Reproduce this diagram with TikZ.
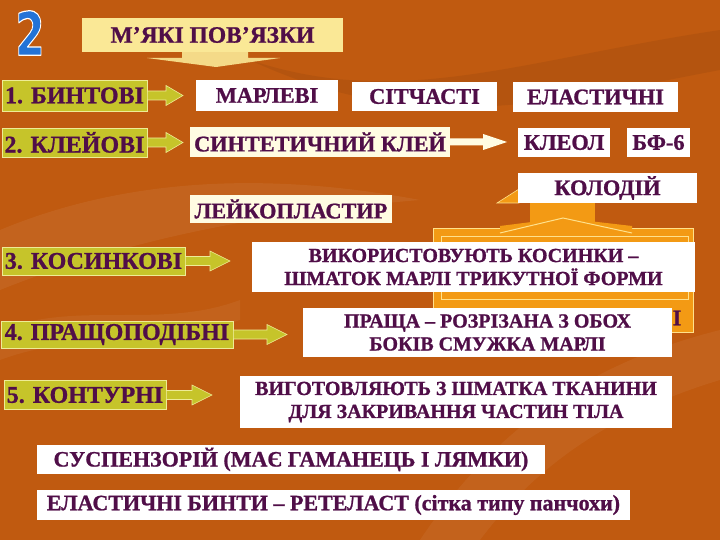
\documentclass[tikz,border=0pt]{standalone}
\usepackage{fontspec}
\setmainfont{Liberation Serif}[BoldFeatures={FakeBold=1.0}]
\newfontfamily\digitfont{DejaVu Sans}
\usetikzlibrary{calc}
\definecolor{bgtop}{RGB}{120,48,6}
\definecolor{bgmid}{RGB}{192,90,16}
\definecolor{bgmid2}{RGB}{165,70,10}
\definecolor{bgbot}{RGB}{80,28,3}
\definecolor{txt}{RGB}{80,14,72}
\definecolor{ygreen}{RGB}{198,196,42}
\definecolor{ygline}{RGB}{238,236,150}
\definecolor{cream}{RGB}{255,252,226}
\definecolor{titlebg}{RGB}{250,232,150}
\definecolor{orangebox}{RGB}{243,154,20}
\definecolor{orline}{RGB}{255,225,140}
\definecolor{digitblue}{RGB}{35,115,215}
\pgfdeclareverticalshading{bgshade}{720bp}{color(0bp)=(bgbot); color(22bp)=(bgmid2); color(60bp)=(bgmid); color(470bp)=(bgmid); color(520bp)=(bgmid2); color(540bp)=(bgtop)}
\newcommand\blkarrow[6]{% start, tip, fill, shaft half, head half, head length
  \path let \p1=#1, \p2=#2 in
    [fill=#3, draw=ygline, line width=0.6pt]
    (\x1,\y1+#4) -- (\x2-#6,\y1+#4) -- (\x2-#6,\y1+#5) -- (\x2,\y1)
    -- (\x2-#6,\y1-#5) -- (\x2-#6,\y1-#4) -- (\x1,\y1-#4) -- cycle;}
\begin{document}
\begin{tikzpicture}[x=1pt,y=-1pt,
  every node/.style={inner sep=0pt, text=txt, font=\bfseries\fontsize{22.3}{24}\selectfont},
  greenbox/.style={fill=ygreen, draw=ygline, line width=0.8pt, font=\bfseries\fontsize{24}{26}\selectfont},
  whitebox/.style={fill=white},
  creambox/.style={fill=cream},
  twoline/.style={align=center, font=\bfseries\fontsize{20}{23}\selectfont},
  lowline/.style={font=\bfseries\fontsize{22}{24}\selectfont}]
% background
\path[shading=bgshade] (0,0) rectangle (720,540);
\fill[white, opacity=0.06] (0,230) .. controls (120,180) and (260,170) .. (420,200) .. controls (300,210) and (150,230) .. (0,290) -- cycle;
\fill[white, opacity=0.05] (420,540) .. controls (500,420) and (600,360) .. (720,330) -- (720,380) .. controls (620,410) and (540,460) .. (480,540) -- cycle;
\fill[black, opacity=0.06] (250,60) .. controls (400,110) and (520,60) .. (720,30) -- (720,70) .. controls (560,100) and (420,140) .. (250,60) -- cycle;
\fill[white, opacity=0.05] (0,330) .. controls (80,300) and (160,330) .. (240,300) -- (240,320) .. controls (160,350) and (80,330) .. (0,360) -- cycle;
\useasboundingbox (0,0) rectangle (720,540);

% big digit
\node (two) [text=digitblue, font=\digitfont\bfseries\fontsize{60}{60}\selectfont, xscale=0.7] at (30,33)
  {\special{pdf:literal direct 2 Tr 1.2 w 1 1 1 RG 1 j}2\special{pdf:literal direct 0 Tr}};

% title callout
\fill[titlebg, opacity=0.9] (182,50) -- (182,58) -- (147,58) -- (216,67) -- (280,58) -- (248,58) -- (248,50) -- cycle;
\node (title) [fill=titlebg, minimum width=261, minimum height=34, font=\bfseries\fontsize{23.5}{25}\selectfont] at (212.5,35) {М’ЯКІ ПОВ’ЯЗКИ};

% orange hidden callout
\fill[orangebox] (530,198) rectangle (595,230);
\filldraw[fill=orangebox, draw=orline, line width=0.6pt] (497,203) -- (519,189) -- (519,203) -- cycle;
\filldraw[fill=orangebox, draw=orline, line width=0.7pt] (433,228) rectangle (693,332);
\draw[orline, line width=0.7pt] (441,236) rectangle (688,299);
\fill[orangebox] (500,226) -- (563,218) -- (632,226) -- (632,235) -- (500,235) -- cycle;
\draw[orline, line width=1pt] (500,233) -- (563,218) -- (632,233);
\node at (677,318) {І};

% left column
\node (b1) [greenbox, minimum width=145, minimum height=31] at (74.5,95.5) {1. БИНТОВІ};
\node (b2) [greenbox, minimum width=145, minimum height=29] at (74.5,142.5) {2. КЛЕЙОВІ};
\node (b3) [greenbox, minimum width=183, minimum height=28] at (93.5,261) {3. КОСИНКОВІ};
\node (b4) [greenbox, minimum width=232, minimum height=27] at (117,334.5) {4. ПРАЩОПОДІБНІ};
\node (b5) [greenbox, minimum width=162, minimum height=29] at (85,395) {5. КОНТУРНІ};

\coordinate (t1) at (183,95.5);
\coordinate (t2) at (183,142.5);
\coordinate (t3) at (230,261);
\coordinate (t4) at (287,334.5);
\coordinate (t5) at (212,395);
\blkarrow{(b1.east)}{(t1)}{ygreen}{4.5pt}{10pt}{17pt}
\blkarrow{(b2.east)}{(t2)}{ygreen}{4.5pt}{10pt}{17pt}
\blkarrow{(b3.east)}{(t3)}{ygreen}{4.5pt}{10pt}{20pt}
\blkarrow{(b4.east)}{(t4)}{ygreen}{4.5pt}{10pt}{20pt}
\blkarrow{(b5.east)}{(t5)}{ygreen}{4.5pt}{10pt}{20pt}

% right boxes
\node (marl) [whitebox, minimum width=142, minimum height=31] at (267,95.5) {МАРЛЕВІ};
\node (sitch) [whitebox, minimum width=145, minimum height=29] at (424.5,96.5) {СІТЧАСТІ};
\node (elast) [whitebox, minimum width=165, minimum height=30] at (595.5,97) {ЕЛАСТИЧНІ};
\node (synt) [creambox, minimum width=260, minimum height=30] at (320,142) {СИНТЕТИЧНИЙ КЛЕЙ};
\node (kleol) [whitebox, minimum width=92, minimum height=29] at (564,142.5) {КЛЕОЛ};
\node (bf) [whitebox, minimum width=63, minimum height=29] at (658.5,142.5) {БФ-6};
\coordinate (ts) at (507,142);
\path let \p1=(synt.east), \p2=(ts) in
  [fill=cream] (\x1,\y1+3.5pt) -- (\x2-24pt,\y1+3.5pt) -- (\x2-24pt,\y1+8pt) -- (\x2,\y1)
  -- (\x2-24pt,\y1-8pt) -- (\x2-24pt,\y1-3.5pt) -- (\x1,\y1-3.5pt) -- cycle;
\node (kolod) [whitebox, minimum width=179, minimum height=30] at (607.5,188) {КОЛОДІЙ};
\node (leyk) [creambox, minimum width=202, minimum height=28] at (291,209) {ЛЕЙКОПЛАСТИР};

\node (kos) [whitebox, twoline, minimum width=443, minimum height=50] at (473.5,267)
  {ВИКОРИСТОВУЮТЬ КОСИНКИ –\\ШМАТОК МАРЛІ ТРИКУТНОЇ ФОРМИ};
\node (prash) [whitebox, twoline, minimum width=369, minimum height=49] at (487.5,332.5)
  {ПРАЩА – РОЗРІЗАНА З ОБОХ\\БОКІВ СМУЖКА МАРЛІ};
\node (vyg) [whitebox, twoline, minimum width=432, minimum height=52] at (456,402)
  {ВИГОТОВЛЯЮТЬ З ШМАТКА ТКАНИНИ\\ДЛЯ ЗАКРИВАННЯ ЧАСТИН ТІЛА};

\node (susp) [whitebox, lowline, minimum width=508, minimum height=29] at (291,459.5)
  {СУСПЕНЗОРІЙ (МАЄ ГАМАНЕЦЬ І ЛЯМКИ)};
\node (elb) [whitebox, lowline, minimum width=593, minimum height=30] at (333.5,505)
  {ЕЛАСТИЧНІ БИНТИ – РЕТЕЛАСТ (сітка типу панчохи)};
\end{tikzpicture}
\end{document}
